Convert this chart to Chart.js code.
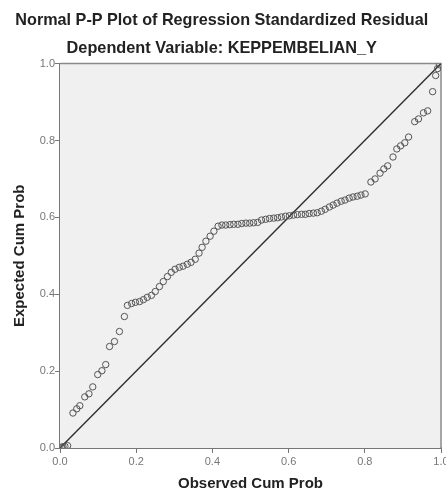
<!DOCTYPE html>
<html>
<head>
<meta charset="utf-8">
<script src="https://cdn.jsdelivr.net/npm/chart.js@4.4.1/dist/chart.umd.min.js"></script>
<style>
  html, body { margin: 0; padding: 0; background: #fff; }
  #wrap { width: 446px; height: 493px; }
</style>
</head>
<body>
<div id="wrap"><canvas id="pp"></canvas></div>
<script>
"use strict";

// observed cum prob (x) and expected cum prob (y)
const observed = [
  0.003, 0.008, 0.013, 0.020, 0.034, 0.044, 0.052, 0.065, 0.076, 0.086,
  0.099, 0.110, 0.120, 0.130, 0.143, 0.156, 0.169, 0.177, 0.188, 0.198,
  0.209, 0.219, 0.229, 0.240, 0.250, 0.261, 0.271, 0.282, 0.292, 0.302,
  0.313, 0.323, 0.334, 0.344, 0.355, 0.365, 0.373, 0.383, 0.394, 0.404,
  0.415, 0.425, 0.435, 0.446, 0.456, 0.467, 0.477, 0.488, 0.498, 0.508,
  0.519, 0.529, 0.540, 0.550, 0.561, 0.571, 0.581, 0.592, 0.602, 0.613,
  0.623, 0.634, 0.644, 0.654, 0.665, 0.675, 0.686, 0.696, 0.707, 0.717,
  0.727, 0.738, 0.748, 0.759, 0.769, 0.780, 0.790, 0.801, 0.816, 0.827,
  0.840, 0.850, 0.860, 0.874, 0.884, 0.894, 0.905, 0.915, 0.931, 0.941,
  0.954, 0.965, 0.978, 0.986, 0.991, 0.996
];
const expected = [
  0.002, 0.003, 0.004, 0.006, 0.091, 0.102, 0.110, 0.133, 0.141, 0.159,
  0.191, 0.201, 0.217, 0.264, 0.277, 0.303, 0.342, 0.371, 0.376, 0.379,
  0.381, 0.386, 0.392, 0.397, 0.407, 0.420, 0.433, 0.446, 0.457, 0.465,
  0.470, 0.473, 0.478, 0.483, 0.491, 0.507, 0.522, 0.538, 0.551, 0.564,
  0.577, 0.580, 0.580, 0.581, 0.582, 0.582, 0.584, 0.585, 0.585, 0.586,
  0.587, 0.593, 0.595, 0.597, 0.598, 0.599, 0.601, 0.603, 0.604, 0.606,
  0.607, 0.608, 0.608, 0.610, 0.611, 0.612, 0.616, 0.621, 0.627, 0.632,
  0.637, 0.642, 0.645, 0.650, 0.653, 0.655, 0.658, 0.661, 0.692, 0.700,
  0.715, 0.726, 0.734, 0.757, 0.778, 0.786, 0.794, 0.809, 0.849, 0.856,
  0.872, 0.877, 0.927, 0.969, 0.987, 0.997
];
const refLine = [0, 1];
const tickValues = [0, 0.2, 0.4, 0.6, 0.8, 1.0];

const fontFamily = "'Liberation Sans', Arial, sans-serif";

let points = observed.map((v, i) => ({ x: v, y: expected[i] }));

// plot background + frame like SPSS output
const plotFrame = {
  id: "plotFrame",
  beforeDatasetsDraw(chart) {
    const { ctx, chartArea: a } = chart;
    ctx.save();
    ctx.fillStyle = "#f0f0f0";
    ctx.fillRect(a.left, a.top, a.right - a.left, a.bottom - a.top);
    ctx.strokeStyle = "#8a8a8a";
    ctx.lineWidth = 1.5;
    ctx.beginPath();
    ctx.moveTo(a.left, a.top);
    ctx.lineTo(a.right, a.top);
    ctx.lineTo(a.right, a.bottom);
    ctx.stroke();
    ctx.restore();
  },
};

const config = {
  type: "scatter",
  data: {
    datasets: [
      {
        label: "Reference",
        type: "line",
        data: refLine.map((v) => ({ x: v, y: v })),
        borderColor: "#2e2e2e",
        borderWidth: 1.4,
        pointRadius: 0,
        fill: false,
        order: 2,
      },
      {
        label: "Residual",
        data: points,
        pointStyle: "circle",
        pointRadius: 3.2,
        borderColor: "#555",
        borderWidth: 1,
        backgroundColor: "rgba(0,0,0,0)",
        order: 1,
      },
    ],
  },
  options: {
    responsive: true,
    maintainAspectRatio: false,
    animation: false,
    layout: { padding: { left: 0, right: 2.5, top: 0, bottom: 0 } },
    plugins: {
      legend: { display: false },
      tooltip: { enabled: false },
      title: {
        display: true,
        text: "Normal P-P Plot of Regression Standardized Residual",
        color: "#222",
        font: { family: fontFamily, size: 16.2, weight: "bold" },
        padding: { top: 11.3, bottom: 4.3 },
      },
      subtitle: {
        display: true,
        text: "Dependent Variable: KEPPEMBELIAN_Y",
        color: "#222",
        font: { family: fontFamily, size: 16.3, weight: "bold" },
        padding: { top: 4, bottom: 5 },
      },
    },
    scales: {
      x: {
        type: "linear",
        min: 0,
        max: 1,
        afterBuildTicks: (scale) => {
          scale.ticks = tickValues.map((v) => ({ value: v }));
        },
        afterFit: (scale) => {
          scale.height = 45;
          scale.paddingLeft = 0;
          scale.paddingRight = 0;
        },
        ticks: {
          color: "#777",
          font: { family: fontFamily, size: 11 },
          padding: 2,
          maxRotation: 0,
          callback: (v) => Number(v).toFixed(1),
        },
        grid: { drawOnChartArea: false, drawTicks: true, tickLength: 5, color: "#777" },
        border: { display: true, color: "#777", width: 2 },
        title: {
          display: true,
          text: "Observed Cum Prob",
          color: "#222",
          font: { family: fontFamily, size: 15, weight: "bold" },
          padding: { top: 0, bottom: 0 },
        },
      },
      y: {
        type: "linear",
        min: 0,
        max: 1,
        afterBuildTicks: (scale) => {
          scale.ticks = tickValues.map((v) => ({ value: v }));
        },
        afterFit: (scale) => {
          scale.width = 60;
          scale.paddingTop = 0;
          scale.paddingBottom = 0;
        },
        ticks: {
          color: "#777",
          font: { family: fontFamily, size: 11 },
          padding: 0,
          callback: (v) => Number(v).toFixed(1),
        },
        grid: { drawOnChartArea: false, drawTicks: true, tickLength: 5, color: "#777" },
        border: { display: true, color: "#777", width: 2 },
        title: {
          display: true,
          text: "Expected Cum Prob",
          color: "#222",
          font: { family: fontFamily, size: 15, weight: "bold" },
          padding: { top: 11, bottom: 0 },
        },
      },
    },
  },
  plugins: [plotFrame],
};

new Chart(document.getElementById("pp"), config);
</script>
</body>
</html>
